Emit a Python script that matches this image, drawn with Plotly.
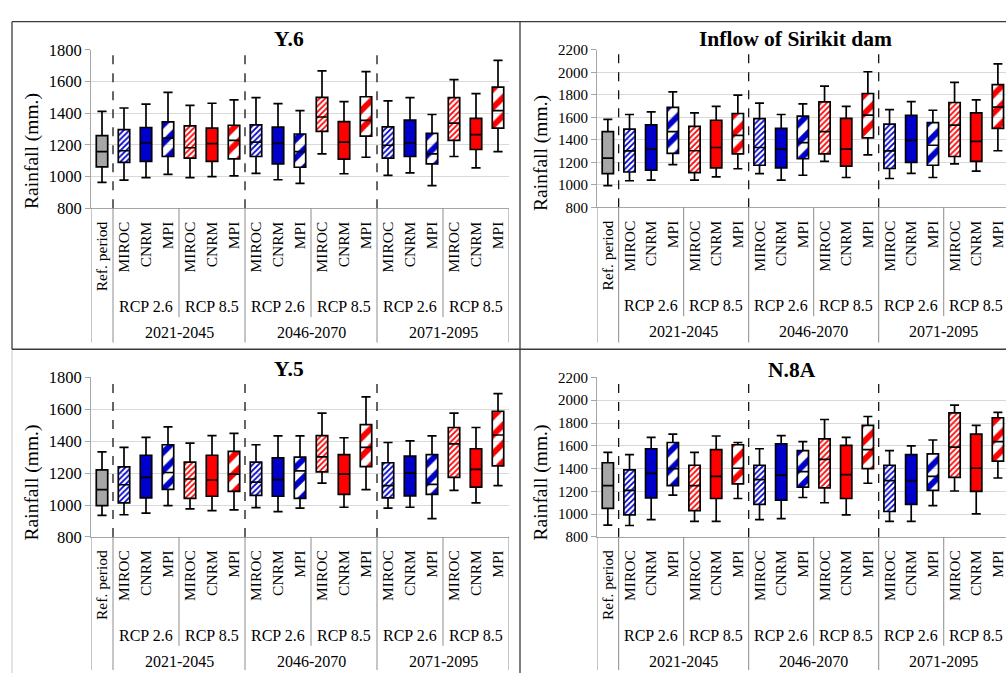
import plotly.graph_objects as go

W, H = 1006, 683

CATEGORIES = ["Ref. period"] + ["MIROC", "CNRM", "MPI"] * 6
SCENARIOS = ["Ref"] + (["RCP 2.6"] * 3 + ["RCP 8.5"] * 3) * 3
RCP_LABELS = ["RCP 2.6", "RCP 8.5"] * 3
PERIODS = ["2021-2045", "2046-2070", "2071-2095"]

# ---- Y.6 ----
y6_min = [963, 978, 994, 1014, 994, 1000, 1004, 1020, 980, 957, 1143, 1018, 1122, 1008, 1024, 943, 1127, 1055, 1157]
y6_q1 = [1061, 1090, 1096, 1127, 1116, 1096, 1112, 1127, 1080, 1059, 1286, 1110, 1255, 1116, 1127, 1080, 1229, 1171, 1306]
y6_med = [1157, 1163, 1212, 1243, 1182, 1208, 1229, 1218, 1210, 1157, 1376, 1218, 1355, 1198, 1212, 1143, 1337, 1265, 1416]
y6_q3 = [1259, 1296, 1310, 1345, 1320, 1306, 1324, 1327, 1312, 1269, 1500, 1347, 1504, 1314, 1357, 1273, 1498, 1367, 1565]
y6_max = [1412, 1433, 1457, 1531, 1449, 1463, 1484, 1498, 1461, 1416, 1667, 1473, 1663, 1478, 1498, 1392, 1612, 1524, 1733]

# ---- Inflow of Sirikit dam ----
sk_min = [993, 1036, 1042, 1180, 1042, 1071, 1143, 1099, 1042, 1085, 1209, 1065, 1266, 1056, 1102, 1065, 1186, 1122, 1303]
sk_q1 = [1099, 1114, 1131, 1280, 1108, 1151, 1275, 1174, 1151, 1232, 1275, 1166, 1418, 1145, 1200, 1174, 1252, 1209, 1502]
sk_med = [1237, 1301, 1318, 1473, 1303, 1332, 1439, 1332, 1318, 1375, 1473, 1318, 1620, 1301, 1395, 1352, 1530, 1387, 1691]
sk_q3 = [1473, 1496, 1533, 1688, 1519, 1574, 1634, 1588, 1502, 1611, 1737, 1591, 1812, 1539, 1617, 1553, 1732, 1640, 1890]
sk_max = [1582, 1625, 1648, 1826, 1640, 1697, 1798, 1726, 1625, 1720, 1878, 1697, 2005, 1668, 1740, 1663, 1910, 1755, 2076]

# ---- Y.5 ----
y5_min = [935, 939, 949, 996, 976, 965, 969, 984, 959, 980, 1137, 986, 1096, 980, 986, 914, 1092, 1014, 1122]
y5_q1 = [996, 1014, 1045, 1098, 1041, 1055, 1086, 1061, 1055, 1041, 1208, 1067, 1241, 1045, 1057, 1067, 1173, 1112, 1245]
y5_med = [1096, 1127, 1173, 1204, 1163, 1157, 1194, 1143, 1159, 1214, 1302, 1194, 1361, 1122, 1200, 1129, 1384, 1224, 1439]
y5_q3 = [1220, 1239, 1312, 1378, 1269, 1312, 1337, 1269, 1296, 1300, 1435, 1316, 1504, 1265, 1306, 1316, 1486, 1353, 1588]
y5_max = [1333, 1361, 1424, 1490, 1388, 1435, 1449, 1378, 1433, 1433, 1576, 1422, 1678, 1392, 1402, 1433, 1576, 1486, 1698]

# ---- N.8A ----
n8_min = [903, 900, 951, 1166, 937, 937, 1137, 951, 960, 1146, 1100, 994, 1271, 937, 937, 1074, 1203, 1003, 1317]
n8_q1 = [1051, 994, 1143, 1251, 1031, 1137, 1266, 1086, 1123, 1237, 1231, 1137, 1400, 1023, 1086, 1209, 1323, 1200, 1466]
n8_med = [1251, 1209, 1357, 1400, 1251, 1331, 1403, 1303, 1343, 1374, 1480, 1346, 1566, 1294, 1294, 1331, 1589, 1403, 1637]
n8_q3 = [1451, 1389, 1574, 1629, 1429, 1566, 1609, 1429, 1617, 1557, 1660, 1603, 1780, 1429, 1523, 1529, 1889, 1703, 1846]
n8_max = [1543, 1523, 1674, 1703, 1543, 1686, 1629, 1574, 1689, 1637, 1831, 1674, 1857, 1557, 1600, 1651, 1957, 1780, 1894]

FONT = "Liberation Serif"
COLORS = {"Ref": "#A6A6A6", "RCP 2.6": "#0000CC", "RCP 8.5": "#FF0000"}
PATTERN = {"Ref": ("", 8), "MIROC": ("/", 4), "CNRM": ("", 8), "MPI": ("/", 13)}

def px(x):
    return x / W

def py(y):
    return 1 - y / H

panels = [
    dict(title="Y.6", d=(y6_min, y6_q1, y6_med, y6_q3, y6_max), ymax=1800, xl=91, xr=509, yt=42, yb=205,
         cw=22, lb=346, tf=16.5, tx=289, ttl_y=31, ylab_x=32, ylab_y=146),
    dict(title="Inflow of Sirikit dam", d=(sk_min, sk_q1, sk_med, sk_q3, sk_max), ymax=2200, xl=597, xr=1006, yt=42, yb=204,
         cw=21.67, lb=346, tf=15, tx=795, ttl_y=31, ylab_x=541, ylab_y=148),
    dict(title="Y.5", d=(y5_min, y5_q1, y5_med, y5_q3, y5_max), ymax=1800, xl=91, xr=509, yt=379, yb=543,
         cw=22, lb=683, tf=16.5, tx=289, ttl_y=370, ylab_x=32, ylab_y=487),
    dict(title="N.8A", d=(n8_min, n8_q1, n8_med, n8_q3, n8_max), ymax=2200, xl=597, xr=1006, yt=379, yb=543,
         cw=21.67, lb=683, tf=15, tx=792, ttl_y=371, ylab_x=541, ylab_y=487),
]

fig = go.Figure()
shapes = []
annotations = []
idx = list(range(len(CATEGORIES)))

for i, p in enumerate(panels):
    n = i + 1
    xa = "x" if n == 1 else f"x{n}"
    ya = "y" if n == 1 else f"y{n}"
    mn, q1, med, q3, mx = p["d"]
    cols = [COLORS[s] for s in SCENARIOS]
    keys = [c if c != "Ref. period" else "Ref" for c in CATEGORIES]
    shapes_p = [PATTERN[k][0] for k in keys]
    sizes_p = [PATTERN[k][1] for k in keys]

    fig.add_trace(go.Bar(
        x=idx, y=[b - a for a, b in zip(q1, q3)], base=q1, width=0.52,
        marker=dict(color=cols, line=dict(width=0),
                    pattern=dict(shape=shapes_p, size=sizes_p, solidity=0.45,
                                 fgcolor=cols, bgcolor=["white"] * len(cols), fillmode="replace")),
        xaxis=xa, yaxis=ya, showlegend=False, hoverinfo="skip"))
    fig.add_trace(go.Box(
        x=idx, q1=q1, median=med, q3=q3, lowerfence=mn, upperfence=mx,
        width=0.52, whiskerwidth=0.8, fillcolor="rgba(0,0,0,0)",
        line=dict(color="black", width=1.7), boxpoints=False,
        xaxis=xa, yaxis=ya, showlegend=False))

    ncat = (p["xr"] - p["xl"]) / p["cw"]
    xkey = "xaxis" if n == 1 else f"xaxis{n}"
    ykey = "yaxis" if n == 1 else f"yaxis{n}"
    fig.update_layout(**{
        xkey: dict(domain=[px(p["xl"]), px(p["xr"])], range=[-0.5, -0.5 + ncat], anchor=ya,
                   tickvals=idx, ticktext=CATEGORIES, tickangle=-90, ticks="",
                   ticklabelstandoff=6, showgrid=False, zeroline=False,
                   showline=True, linecolor="#A6A6A6", linewidth=1.3,
                   tickfont=dict(family=FONT, size=15.5, color="black")),
        ykey: dict(domain=[py(p["yb"]), py(p["yt"])], range=[800, p["ymax"]], dtick=200, anchor=xa,
                   showgrid=True, gridcolor="#D9D9D9", gridwidth=1.3, zeroline=False,
                   showline=True, linecolor="#A6A6A6", linewidth=1,
                   ticks="outside", ticklen=5, tickcolor="#A6A6A6",
                   tickfont=dict(family=FONT, size=p["tf"], color="black")),
    })

    for g in range(3):
        xs = 0.5 + 6 * g
        shapes.append(dict(type="line", xref=xa, yref=ya, x0=xs, x1=xs, y0=800, y1=p["ymax"],
                           line=dict(color="black", width=1.2, dash="dash")))
    ybot_axis = py(p["yb"])
    for xs in [-0.5, 0.5, 6.5, 12.5, 18.5]:
        shapes.append(dict(type="line", xref=xa, yref="paper", x0=xs, x1=xs, y0=ybot_axis, y1=py(p["lb"] - 3),
                           line=dict(color="#8C8C8C", width=1)))
    for xs in [3.5, 9.5, 15.5]:
        shapes.append(dict(type="line", xref=xa, yref="paper", x0=xs, x1=xs, y0=ybot_axis, y1=py(p["yb"] + 112),
                           line=dict(color="#8C8C8C", width=1)))
    for k, lab in enumerate(RCP_LABELS):
        annotations.append(dict(text=lab, xref=xa, yref="paper", x=2 + 3 * k, y=py(p["yb"] + 101),
                                xanchor="center", yanchor="middle",
                                showarrow=False, font=dict(family=FONT, size=16, color="black")))
    for k, lab in enumerate(PERIODS):
        annotations.append(dict(text=lab, xref=xa, yref="paper", x=3.5 + 6 * k, y=py(p["yb"] + 128),
                                xanchor="center", yanchor="middle",
                                showarrow=False, font=dict(family=FONT, size=16, color="black")))
    annotations.append(dict(text="<b>" + p["title"] + "</b>", xref="paper", yref="paper",
                            x=px(p["tx"]), y=py(p["ttl_y"]), xanchor="center", yanchor="middle",
                            showarrow=False, font=dict(family=FONT, size=21.5, color="black")))
    annotations.append(dict(text="Rainfall (mm.)", xref="paper", yref="paper", textangle=-90,
                            x=px(p["ylab_x"]), y=py(p["ylab_y"]), xanchor="center", yanchor="middle",
                            showarrow=False, font=dict(family=FONT, size=19.5, color="black")))

frame = "#3A3A3A"
shapes += [
    dict(type="line", xref="paper", yref="paper", x0=px(12), x1=1, y0=py(13), y1=py(13), line=dict(color=frame, width=1.3)),
    dict(type="line", xref="paper", yref="paper", x0=px(12), x1=px(12), y0=py(13), y1=py(350), line=dict(color=frame, width=1.3)),
    dict(type="line", xref="paper", yref="paper", x0=px(12), x1=px(12), y0=py(350), y1=0, line=dict(color="#C8C8C8", width=1)),
    dict(type="line", xref="paper", yref="paper", x0=px(520), x1=px(520), y0=py(13), y1=0, line=dict(color=frame, width=1.3)),
    dict(type="line", xref="paper", yref="paper", x0=px(12), x1=1, y0=py(350), y1=py(350), line=dict(color=frame, width=1.3)),
]

fig.update_layout(width=W, height=H, margin=dict(l=0, r=0, t=0, b=0),
                  paper_bgcolor="white", plot_bgcolor="white",
                  shapes=shapes, annotations=annotations, barmode="overlay",
                  font=dict(family=FONT))

fig.write_html("out.html")
